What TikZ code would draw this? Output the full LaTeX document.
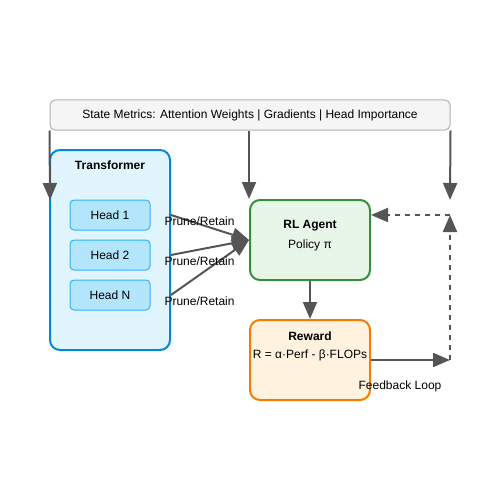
\documentclass[tikz,border=0pt]{standalone}
\usepackage{fontspec}
\setmainfont{Liberation Sans}
\usetikzlibrary{arrows.meta}
\definecolor{arrgray}{HTML}{555555}
\definecolor{stateline}{HTML}{B0B0B0}
\definecolor{statefill}{HTML}{F5F5F5}
\definecolor{tfline}{HTML}{0288D1}
\definecolor{tffill}{HTML}{E1F5FE}
\definecolor{headline}{HTML}{29B6F6}
\definecolor{headfill}{HTML}{B3E5FC}
\definecolor{agentline}{HTML}{388E3C}
\definecolor{agentfill}{HTML}{E8F5E9}
\definecolor{rewardline}{HTML}{F57C00}
\definecolor{rewardfill}{HTML}{FFF3E0}

\begin{document}
\begin{tikzpicture}[x=1pt,y=-1pt,font=\fontsize{12pt}{14pt}\selectfont,
    arr/.style={draw=arrgray,line width=2pt,-{Triangle[length=17pt,width=14pt]}},
    box/.style={rounded corners=10pt,line width=2pt,minimum width=120pt},
    headbox/.style={draw=headline,fill=headfill,rounded corners=4pt,line width=1pt,minimum width=80pt,minimum height=30pt}]
            \useasboundingbox (0,0) rectangle (500,500);
            \node[draw=stateline,fill=statefill,rounded corners=5pt,line width=1pt,minimum width=400pt,minimum height=30pt] (S) at (250,115) {State Metrics: Attention Weights | Gradients | Head Importance};
            \node[box,draw=tfline,fill=tffill,minimum height=200pt] (T) at (110,250) {};
            \node[font=\fontsize{12pt}{14pt}\selectfont\bfseries] (Tl) at (110,165.5) {Transformer};
            \node[headbox] (H1) at (110,215) {Head 1};
            \node[headbox] (H2) at (110,255) {Head 2};
            \node[headbox] (HN) at (110,295) {Head N};
            \node[box,draw=agentline,fill=agentfill,minimum height=80pt] (A) at (310,240) {};
            \node[font=\fontsize{12pt}{14pt}\selectfont\bfseries] (Al) at (310,226) {RL Agent};
            \node (Ap) at (310,245.5) {Policy π};
            \node[box,draw=rewardline,fill=rewardfill,minimum height=80pt] (R) at (310,360) {};
            \node[font=\fontsize{12pt}{14pt}\selectfont\bfseries] (Rl) at (310,336) {Reward};
            \node (Rf) at (310,355.5) {R = α·Perf - β·FLOPs};
            \coordinate (tin) at (50,200);
            \coordinate (fin) at (450,200);
            \coordinate (fb) at (450,360);
            \coordinate (fc) at (450,215);
            % state metrics feed everything
            \draw[arr] (S.south west) -- (tin);
            \draw[arr] (S.south -| A.north west) -- (A.north west);
            \draw[arr] (S.south east) -- (fin);
            % heads to agent
            \draw[arr] (H1 -| T.east) -- (A.west);
            \draw[arr] (H2 -| T.east) -- (A.west);
            \draw[arr] (HN -| T.east) -- (A.west);
            \node[anchor=west] (p1) at (161,221) {Prune/Retain};
            \node[anchor=west] (p2) at (161,261) {Prune/Retain};
            \node[anchor=west] (p3) at (161,301) {Prune/Retain};
            \draw[arr] (A) -- (R);
            % feedback loop
            \draw[arr] (R.east |- fb) -- (fb);
            \draw[arr,dash pattern=on 5pt off 5pt] (fb) -- (fc);
            \draw[arr,dash pattern=on 5pt off 5pt] (fc) -- (fc -| A.east);
            \node (fl) at (400,386) {Feedback Loop};
        \end{tikzpicture}
\end{document}
